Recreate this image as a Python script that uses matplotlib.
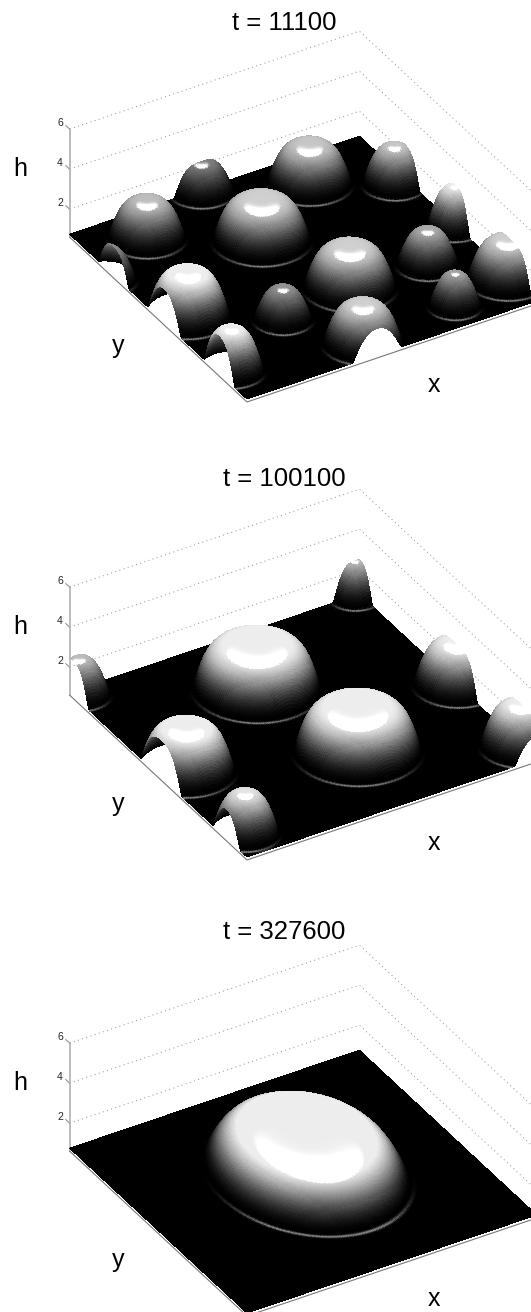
"""Three snapshots of a dewetting film h(x,y,t), surfaces shaded in gray."""
import numpy as np
import matplotlib
matplotlib.use('Agg')
import matplotlib.pyplot as plt
from mpl_toolkits.mplot3d import proj3d

plt.rcParams['font.family'] = ['Liberation Sans', 'DejaVu Sans']

W, H = 531, 1312
TITLES = ['t = 11100', 't = 100100', 't = 327600']
Z_TICKS = [2, 4, 6]
Z_MIN, Z_MAX = 0.6, 6.0
FILM = 0.75

# droplets: centre on the floor, radii, height above film
P1_X = [.190, .454, .751, .964, .996, .992, .570, .827, .782, .449, .311, .475, -.03, .080, .040]
P1_Y = [.876, 1.00, .875, .743, .457, .150, .352, .333, .105, .080, .306, .694, .750, .465, .154]
P1_R = [.124, .105, .135, .103, .090, .130, .147, .100, .085, .128, .095, .155, .100, .135, .105]
P1_H = [1.75, 1.40, 1.80, 1.80, 2.00, 1.85, 1.85, 1.65, 1.60, 1.85, 1.50, 1.85, 1.50, 2.10, 2.05]

P2_X = [.490, .574, 1.009, 1.00, .985, .020, .085, .063]
P2_Y = [.746, .314, .461, .090, 1.00, .980, .482, .114]
P2_R = [.200, .200, .140, .130, .085, .100, .155, .110]
P2_H = [2.05, 2.05, 2.00, 2.00, 1.75, 1.75, 2.10, 1.95]

P3_X = [.540]
P3_Y = [.546]
P3_R = [.295]
P3_H = [1.90]
P3_STRETCH = [1.26]

PANELS = [
    (P1_X, P1_Y, P1_R, P1_H, [1.0] * len(P1_X)),
    (P2_X, P2_Y, P2_R, P2_H, [1.0] * len(P2_X)),
    (P3_X, P3_Y, P3_R, P3_H, P3_STRETCH),
]
# pixel row of the nearest floor corner of each panel
CORNER_Y = [402, 860, 1316]
# height that reaches the top of the gray ramp
GRAY_TOP = [2.0, 2.0, 1.7]

N = 300
xg = np.linspace(0, 1, N)
yg = np.linspace(0, 1, N)
X, Y = np.meshgrid(xg, yg)
VIEW_X, VIEW_Y = -0.515, -0.857


def surface(xs, ys, rs, hs, stretch):
    dome = np.zeros_like(X)
    ring = np.zeros_like(X)
    for cx, cy, r, h, st in zip(xs, ys, rs, hs, stretch):
        d = np.sqrt((X - cx) ** 2 + ((Y - cy) / st) ** 2)
        s = np.clip(d / ((0.88 + 0.25 * r) * r), 0, 1)
        p = min(2 + 120 * r ** 2, 6.5)
        dome = np.maximum(dome, h * (1 - s ** p) ** 1.3)
        front = np.clip(((X - cx) * VIEW_X + (Y - cy) * VIEW_Y) / (d + 1e-6), 0, 1)
        ring += 0.5 * front ** 2.5 * np.exp(-((d - r) / 0.0055) ** 2)
    ring[dome > 0.02] = 0
    return FILM + dome, dome, ring


def shade(Z, dome, ring, top):
    zy, zx = np.gradient(Z, yg, xg)
    zx, zy = zx * 24 / 340, zy * 24 / 340
    norm = np.sqrt(zx ** 2 + zy ** 2 + 1)
    # light tilted towards the viewer, the flat film stays black
    t = np.radians(15)
    lx, ly = VIEW_X * np.sin(t), VIEW_Y * np.sin(t)
    ndotl = (-zx * lx - zy * ly + np.cos(t)) / norm
    floor = np.cos(t) ** 30
    spec = np.clip((np.clip(ndotl, 0, 1) ** 30 - floor) / (1 - floor), 0, 1)
    # no highlight low on the flanks
    spec *= np.clip((dome / top - 0.35) / 0.2, 0, 1)
    base = 0.93 * np.clip(dome / top, 0, 1) ** 1.7
    gray = np.clip(base + 0.8 * spec + ring, 0, 1)
    return np.dstack([gray, gray, gray, np.ones_like(gray)])


fig = plt.figure(figsize=(W / 100, H / 100), dpi=100)

for i, (xs, ys, rs, hs, stretch) in enumerate(PANELS):
    ax = fig.add_axes([0, 0, 1, 1], projection='3d', proj_type='ortho')
    ax.computed_zorder = False
    ax.set_axis_off()
    ax.patch.set_alpha(0)
    ax.view_init(elev=34.1, azim=-121.1)
    ax.set_box_aspect((338, 343, 130.4))
    ax.set_xlim(0, 1)
    ax.set_ylim(0, 1)
    ax.set_zlim(Z_MIN, Z_MAX)

    # fit the box to the pixel corners of the panel
    M = ax.get_proj()
    x0, y0, _ = proj3d.proj_transform(0, 0, Z_MIN, M)
    xl, _, _ = proj3d.proj_transform(0, 1, Z_MIN, M)
    xr, _, _ = proj3d.proj_transform(1, 0, Z_MIN, M)
    lo, hi = -0.095, 0.09
    ppu = (537 - 70) / (xr - xl)
    side = ppu * (hi - lo)
    left = 247 - (x0 - lo) * ppu
    bottom = (H - CORNER_Y[i]) - (y0 - lo) * ppu
    ax.set_position([left / W, bottom / H, side / W, side / H])

    dy = CORNER_Y[i] - 402

    # box: dotted walls, gray edges, ticks
    for z in Z_TICKS:
        ax.plot([0, 1, 1], [1, 1, 0], [z, z, z], color='#8c8c8c', lw=0.7,
                ls=(0, (1, 3.5)), zorder=1)
        ax.plot([0, 0], [1, 1.022], [z, z], color='#777777', lw=0.6, zorder=1)
        fig.text(60 / W, 1 - (123 + (6 - z) * 20 + dy) / H, str(z), fontsize=7.5,
                 ha='center', va='center', color='#222222')
    ax.plot([0, 0], [1, 1], [Z_MIN, Z_MAX], color='#aaaaaa', lw=1.1, zorder=1)
    ax.plot([0, 0, 1], [1, 0, 0], [Z_MIN, Z_MIN, Z_MIN], color='#777777', lw=0.8, zorder=1)

    Z, dome, ring = surface(xs, ys, rs, hs, stretch)
    ax.plot_surface(X, Y, Z, facecolors=shade(Z, dome, ring, GRAY_TOP[i]), rstride=1, cstride=1,
                    linewidth=0, antialiased=False, shade=False, zorder=2)

    fig.text(284 / W, 1 - (23 + dy * 0.995) / H, TITLES[i], fontsize=18.5, ha='center', va='center')
    fig.text(20 / W, 1 - (169 + dy) / H, 'h', fontsize=18, ha='center', va='center')
    fig.text(118 / W, 1 - (346 + dy) / H, 'y', fontsize=18, ha='center', va='center')
    fig.text(434 / W, 1 - (385 + dy) / H, 'x', fontsize=18, ha='center', va='center')

fig.savefig('out.png', dpi=100)
